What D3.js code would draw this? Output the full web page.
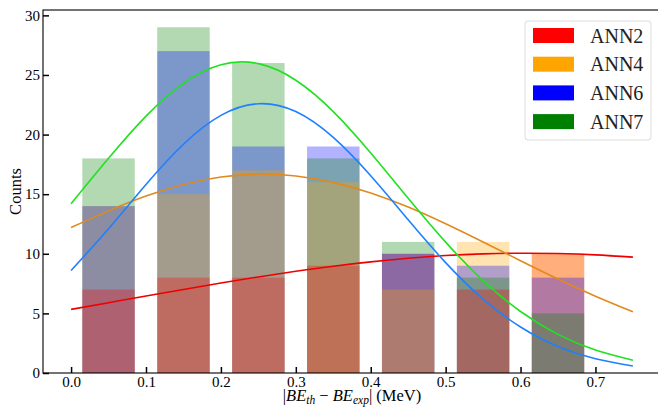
<!DOCTYPE html>
<html>
<head>
<meta charset="utf-8">
<script src="https://cdn.jsdelivr.net/npm/d3@7"></script>
<style>
  body { margin: 0; background: #fff; }
  svg { display: block; font-family: "Liberation Serif", "Times New Roman", serif; }
</style>
</head>
<body>
<div id="chart"></div>
<script>
// bin centres of the histogram (MeV)
var binCenters = [0.05, 0.15, 0.25, 0.35, 0.45, 0.55, 0.65];
var binWidth = 0.07;

var seriesNames = ["ANN2", "ANN4", "ANN6", "ANN7"];
var barColors = ["#ff0000", "#ffa500", "#0000ff", "#008000"];
var lineColors = ["#ee0000", "#e08a1e", "#1e80ff", "#22e022"];

// counts per bin
var ann2Counts = [7, 8, 8, 9, 10, 7, 10];
var ann4Counts = [14, 15, 17, 16, 7, 11, 10];
var ann6Counts = [14, 27, 19, 19, 10, 9, 8];
var ann7Counts = [18, 29, 26, 18, 11, 8, 5];

// fitted curves
var curveX = [0, 0.05, 0.1, 0.15, 0.2, 0.25, 0.3, 0.35, 0.4, 0.45, 0.5, 0.55, 0.6, 0.65, 0.7, 0.75];
var ann2Fit = [5.34, 5.90, 6.46, 7.01, 7.55, 8.06, 8.53, 8.96, 9.32, 9.62, 9.85, 9.99, 10.05, 10.02, 9.91, 9.72];
var ann4Fit = [12.2, 13.6, 14.84, 15.81, 16.44, 16.69, 16.53, 15.99, 15.10, 13.92, 12.52, 10.99, 9.42, 7.88, 6.44, 5.13];
var ann6Fit = [8.60, 12.10, 15.82, 19.19, 21.61, 22.59, 21.93, 19.76, 16.54, 12.85, 9.26, 6.20, 3.86, 2.22, 1.19, 0.59];
var ann7Fit = [14.20, 18.01, 21.55, 24.30, 25.86, 25.95, 24.56, 21.93, 18.46, 14.66, 10.98, 7.75, 5.16, 3.24, 1.92, 1.07];

var yTicks = [0, 5, 10, 15, 20, 25, 30];
var xTicks = [0.0, 0.1, 0.2, 0.3, 0.4, 0.5, 0.6, 0.7];

var counts = [ann2Counts, ann4Counts, ann6Counts, ann7Counts];
var fits = [ann2Fit, ann4Fit, ann6Fit, ann7Fit];

const W = 658, H = 408;
const mLeft = 43, mRight = 661, mTop = 10, mBottom = 373;
const serif = "Liberation Serif, Times New Roman, serif";

var svg = d3.select("#chart")
  .append("svg")
  .attr("width", W)
  .attr("height", H);

var x = d3.scaleLinear().domain([-0.0375, 0.7875]).range([mLeft, mRight]);
var y = d3.scaleLinear().domain([0, 30.45]).range([mBottom, mTop]);

// bars: in each bin the tallest is drawn first
var bars = [];
binCenters.forEach((c, b) => {
  var items = counts.map((arr, s) => ({ s: s, c: c, v: arr[b] }));
  items.sort((p, q) => (q.v - p.v) || (p.s - q.s));
  items.forEach(d => bars.push(d));
});

svg.append("g")
  .selectAll("rect")
  .data(bars)
  .enter().append("rect")
  .attr("x", d => x(d.c - binWidth / 2))
  .attr("width", d => x(d.c + binWidth / 2) - x(d.c - binWidth / 2))
  .attr("y", d => y(d.v))
  .attr("height", d => y(0) - y(d.v))
  .attr("fill", d => barColors[d.s])
  .attr("fill-opacity", 0.3);

// fitted curves
var line = d3.line()
  .x((d, i) => x(curveX[i]))
  .y(d => y(d))
  .curve(d3.curveNatural);

svg.append("g")
  .selectAll("path")
  .data(fits)
  .enter().append("path")
  .attr("d", d => line(d))
  .attr("fill", "none")
  .attr("stroke", (d, i) => lineColors[i])
  .attr("stroke-width", 1.6);

// frame
svg.append("rect")
  .attr("x", mLeft)
  .attr("y", mTop)
  .attr("width", mRight - mLeft)
  .attr("height", mBottom - mTop)
  .attr("fill", "none")
  .attr("stroke", "#000")
  .attr("stroke-width", 1.1);

// axes, ticks pointing in
var xAxis = svg.append("g")
  .attr("transform", `translate(0,${mBottom})`)
  .call(d3.axisBottom(x).tickValues(xTicks).tickFormat(d3.format(".1f")).tickSizeInner(-6).tickSizeOuter(0).tickPadding(3));

var yAxis = svg.append("g")
  .attr("transform", `translate(${mLeft},0)`)
  .call(d3.axisLeft(y).tickValues(yTicks).tickSizeInner(-6).tickSizeOuter(0).tickPadding(3));

[xAxis, yAxis].forEach(g => {
  g.attr("font-family", serif).attr("font-size", 15);
  g.select(".domain").remove();
  g.selectAll(".tick line").attr("stroke", "#000").attr("stroke-width", 1.5);
  g.selectAll(".tick text").attr("fill", "#000");
});

// axis labels
svg.append("text")
  .attr("transform", `translate(21,${(mTop + mBottom) / 2}) rotate(-90)`)
  .attr("text-anchor", "middle")
  .attr("font-family", serif)
  .attr("font-size", 16.5)
  .text("Counts");

var xl = svg.append("text")
  .attr("x", 352)
  .attr("y", 400.5)
  .attr("text-anchor", "middle")
  .attr("font-family", serif)
  .attr("font-size", 16.5);
xl.append("tspan").text("|");
xl.append("tspan").style("font-style", "italic").text("BE");
xl.append("tspan").style("font-style", "italic").attr("font-size", 11.5).attr("dy", 3.5).text("th");
xl.append("tspan").attr("dy", -3.5).text(" \u2212 ");
xl.append("tspan").style("font-style", "italic").text("BE");
xl.append("tspan").style("font-style", "italic").attr("font-size", 11.5).attr("dy", 3.5).text("exp");
xl.append("tspan").attr("dy", -3.5).text("| (MeV)");

// legend
var lg = svg.append("g").attr("transform", "translate(525,21)");
lg.append("rect")
  .attr("width", 126)
  .attr("height", 119)
  .attr("rx", 3)
  .attr("fill", "#fff")
  .attr("fill-opacity", 0.8)
  .attr("stroke", "#dcdcdc");

var items = lg.selectAll(".legend")
  .data(seriesNames)
  .enter().append("g")
  .attr("class", "legend")
  .attr("transform", (d, i) => `translate(0,${14.5 + i * 28.7})`);

items.append("rect")
  .attr("x", 8)
  .attr("y", -7.5)
  .attr("width", 41)
  .attr("height", 15)
  .attr("fill", (d, i) => barColors[i]);

items.append("text")
  .attr("x", 65)
  .attr("y", 7)
  .attr("font-family", serif)
  .attr("font-size", 20)
  .attr("fill", "#222")
  .text(d => d);
</script>
</body>
</html>
